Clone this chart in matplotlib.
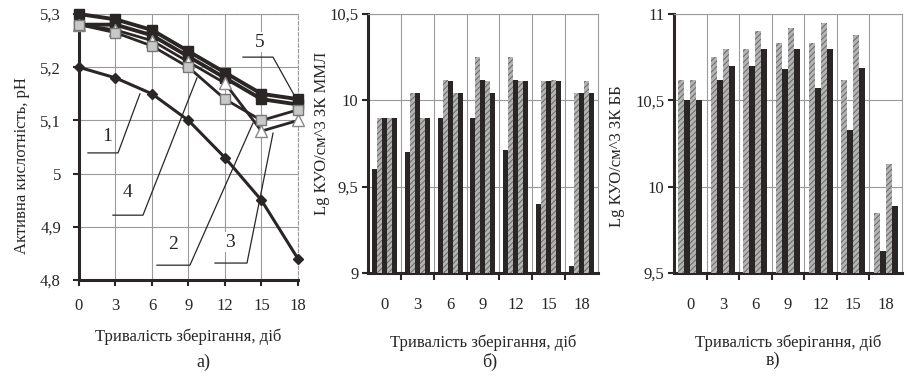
import matplotlib
matplotlib.use("Agg")
import matplotlib.pyplot as plt
import numpy as np
from matplotlib.ticker import FixedLocator, FuncFormatter

plt.rcParams['font.family'] = ['Liberation Serif', 'DejaVu Serif']
plt.rcParams['font.size'] = 12
plt.rcParams['hatch.linewidth'] = 0.8

# ---- data ----
days = [0, 3, 6, 9, 12, 15, 18]

ph_1 = [5.20, 5.18, 5.15, 5.10, 5.03, 4.95, 4.84]
ph_2 = [5.28, 5.265, 5.24, 5.20, 5.14, 5.10, 5.12]
ph_3 = [5.28, 5.27, 5.25, 5.21, 5.17, 5.08, 5.10]
ph_4 = [5.28, 5.28, 5.26, 5.22, 5.18, 5.14, 5.13]
ph_5 = [5.30, 5.29, 5.27, 5.23, 5.19, 5.15, 5.14]

# б) ЗК ММЛ, 5 bars per group
mml_1 = [9.60, 9.70, 9.90, 9.90, 9.71, 9.40, 9.04]
mml_2 = [9.90, 10.04, 10.12, 10.25, 10.25, 10.11, 10.04]
mml_3 = [9.90, 10.04, 10.11, 10.12, 10.12, 10.11, 10.04]
mml_4 = [9.90, 9.90, 10.04, 10.11, 10.11, 10.12, 10.11]
mml_5 = [9.90, 9.90, 10.04, 10.04, 10.11, 10.11, 10.04]

# в) ЗК ББ, 4 bars per group
bb_1 = [10.62, 10.75, 10.80, 10.83, 10.83, 10.62, 9.85]
bb_2 = [10.50, 10.62, 10.70, 10.68, 10.57, 10.33, 9.63]
bb_3 = [10.62, 10.80, 10.90, 10.92, 10.95, 10.88, 10.13]
bb_4 = [10.50, 10.70, 10.80, 10.80, 10.80, 10.69, 9.89]

dark = '#2b2626'
grid_c = '#9a9a9a'
txt = '#262626'


def comma(v, pos):
    s = ('%.1f' % v).replace('.', ',')
    if s.endswith(',0'):
        s = s[:-2]
    return s


def style_axes(ax):
    for side in ['left', 'bottom']:
        ax.spines[side].set_linewidth(2.2)
        ax.spines[side].set_color(dark)
    for side in ['top', 'right']:
        ax.spines[side].set_linewidth(0.8)
        ax.spines[side].set_color(grid_c)
        ax.spines[side].set_linestyle((0, (3, 2)))
    ax.yaxis.set_major_formatter(FuncFormatter(comma))
    ax.tick_params(axis='both', colors=dark, labelcolor=txt, width=1.5, length=4)


fig = plt.figure(figsize=(9.14, 3.79), dpi=100)

# ---------- a) ----------
ax1 = fig.add_axes([0.0864, 0.261, 0.2396, 0.702])
ax1.plot(days, ph_5, color=dark, lw=2.8, marker='s', ms=7, mfc=dark, mec=dark, clip_on=False, zorder=5)
ax1.plot(days, ph_4, color=dark, lw=2.8, marker='s', ms=7, mfc=dark, mec=dark, clip_on=False, zorder=5)
ax1.plot(days, ph_3, color=dark, lw=2.0, marker='^', ms=8, mfc='white', mec='#888888', clip_on=False, zorder=6)
ax1.plot(days, ph_2, color=dark, lw=2.0, marker='s', ms=7, mfc='#c8c8c8', mec='#777777', clip_on=False, zorder=6)
ax1.plot(days, ph_1, color=dark, lw=2.2, marker='D', ms=5, mfc=dark, mec=dark, clip_on=False, zorder=5)
ax1.set_xlim(0, 18)
ax1.set_ylim(4.8, 5.3)
ax1.set_xticks(days)
ax1.set_yticks([4.8, 4.9, 5.0, 5.1, 5.2, 5.3])
ax1.grid(True, color=grid_c, lw=0.8)
ax1.set_axisbelow(True)
style_axes(ax1)
ax1.tick_params(axis='x', direction='out', pad=9)
ax1.tick_params(axis='y', direction='out', pad=9)
ax1.set_xlabel('Тривалість зберігання, діб', color=txt, labelpad=10)
ax1.set_ylabel('Активна кислотність, рН', color=txt)
ax1.yaxis.set_label_coords(-0.224, 0.43)

# callouts: label, label position, elbow start, elbow end, target point (data coords)
callouts = [
    ('1', (2.30, 5.069), (0.74, 5.039), (3.21, 5.039), (5.01, 5.150)),
    ('4', (3.95, 4.964), (2.79, 4.922), (5.26, 4.922), (9.70, 5.180)),
    ('2', (7.73, 4.866), (6.41, 4.828), (9.12, 4.828), (14.30, 5.095)),
    ('3', (12.41, 4.871), (11.18, 4.832), (13.81, 4.832), (15.95, 5.076)),
    ('5', (14.88, 5.247), (13.48, 5.219), (15.95, 5.219), (17.92, 5.138)),
]
for lab, tpos, p0, p1, p2 in callouts:
    ax1.plot([p0[0], p1[0], p2[0]], [p0[1], p1[1], p2[1]], color=dark, lw=0.9, zorder=7, clip_on=False)
    ax1.text(tpos[0], tpos[1], lab, ha='center', va='center', fontsize=14, color=txt, zorder=8,
             bbox=dict(facecolor='white', edgecolor='none', pad=1))

fig.text(0.222, 0.045, 'а)', ha='center', va='center', fontsize=13, color=txt)


def bar_panel(ax, series, ylim, yticks, ylabel, label_xy):
    n = len(series)
    w = 0.76 / n if n == 5 else 0.74 / n
    x = np.arange(len(days))
    for i, vals in enumerate(series):
        off = (i - (n - 1) / 2) * w
        vals = np.array(vals)
        is_dark = (i % 2 == 0) if n == 5 else (i % 2 == 1)
        if is_dark:
            ax.bar(x + off, vals - ylim[0], w, bottom=ylim[0], color=dark, lw=0, zorder=3)
        else:
            ax.bar(x + off, vals - ylim[0], w, bottom=ylim[0], facecolor='#b4b4b4',
                   edgecolor='#6f6f6f', hatch='//////', lw=0, zorder=3)
    ax.set_xlim(-0.5, len(days) - 0.5)
    ax.set_ylim(*ylim)
    ax.set_yticks(yticks)
    ax.set_xticks(x)
    ax.set_xticklabels([str(d) for d in days])
    ax.xaxis.set_minor_locator(FixedLocator(np.arange(0.5, len(days) - 0.5, 1.0)))
    ax.grid(True, which='minor', axis='x', color=grid_c, lw=0.8)
    ax.grid(True, which='major', axis='y', color=grid_c, lw=0.8)
    ax.set_axisbelow(True)
    style_axes(ax)
    ax.spines['top'].set_linestyle('-')
    ax.spines['right'].set_linestyle('-')
    ax.tick_params(axis='x', which='major', length=0, pad=17)
    ax.tick_params(axis='x', which='minor', length=5, width=1.5, color=dark, direction='out')
    ax.tick_params(axis='y', direction='out', pad=3)
    ax.set_xlabel('Тривалість зберігання, діб', color=txt, labelpad=16)
    ax.set_ylabel(ylabel, color=txt)
    ax.yaxis.set_label_coords(*label_xy)


ax2 = fig.add_axes([0.4026, 0.2797, 0.2516, 0.6834])
bar_panel(ax2, [mml_1, mml_2, mml_3, mml_4, mml_5], (9.0, 10.5), [9.0, 9.5, 10.0, 10.5],
          'Lg КУО/см^3 ЗК ММЛ', (-0.165, 0.54))
fig.text(0.536, 0.045, 'б)', ha='center', va='center', fontsize=13, color=txt)

ax3 = fig.add_axes([0.7374, 0.2797, 0.2495, 0.6834])
bar_panel(ax3, [bb_1, bb_2, bb_3, bb_4], (9.5, 11.0), [9.5, 10.0, 10.5, 11.0],
          'Lg КУО/см^3 ЗК ББ', (-0.215, 0.45))
fig.text(0.846, 0.05, 'в)', ha='center', va='center', fontsize=13, color=txt)

fig.savefig('out.png', dpi=100, facecolor='white')
